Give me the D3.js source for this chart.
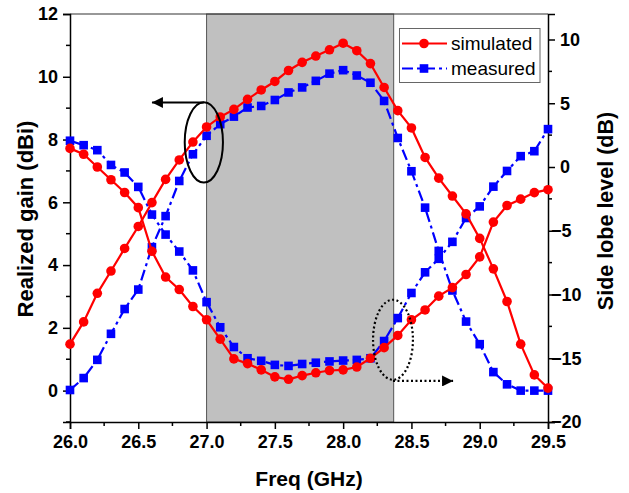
<!DOCTYPE html>
<html>
<head>
<meta charset="utf-8">
<script src="https://cdn.jsdelivr.net/npm/d3@7"></script>
<style>
  html, body { margin: 0; padding: 0; background: #fff; }
  svg { display: block; }
  text { font-family: Arial, "Liberation Sans", sans-serif; }
</style>
</head>
<body>
<svg id="chart" width="629" height="493"></svg>
<script>
// ---------------- data ----------------
const freq = [26.0,26.1,26.2,26.3,26.4,26.5,26.6,26.7,26.8,26.9,
              27.0,27.1,27.2,27.3,27.4,27.5,27.6,27.7,27.8,27.9,
              28.0,28.1,28.2,28.3,28.4,28.5,28.6,28.7,28.8,28.9,
              29.0,29.1,29.2,29.3,29.4,29.5];
// realized gain (dBi), left axis
const gainSim  = [1.48,2.19,3.10,3.81,4.53,5.23,5.99,6.73,7.35,7.92,
                  8.40,8.72,8.96,9.28,9.58,9.85,10.20,10.46,10.66,10.86,
                  11.07,10.83,10.42,9.66,8.92,8.37,7.43,6.77,6.20,5.63,
                  4.85,3.88,2.84,1.48,0.50,0.08];
const gainMeas = [0.02,0.40,0.98,1.81,2.60,3.22,4.57,5.56,6.68,7.53,
                  8.12,8.49,8.73,9.02,9.07,9.26,9.50,9.66,9.87,10.10,
                  10.21,10.04,9.81,9.23,8.05,6.99,5.83,4.45,3.19,2.20,
                  1.48,0.59,0.20,0.00,0.00,0.00];
// side lobe level (dB), right axis
const sllSim  = [1.46,1.00,0.00,-1.00,-2.00,-3.19,-6.61,-8.63,-9.61,-10.94,
                 -11.98,-13.50,-15.05,-15.42,-15.91,-16.46,-16.65,-16.36,-16.14,-15.96,
                 -15.91,-15.69,-15.00,-14.17,-13.21,-11.98,-11.21,-10.13,-9.46,-8.43,
                 -7.05,-4.32,-3.02,-2.52,-2.01,-1.78];
const sllMeas = [2.06,1.71,1.32,0.16,-0.43,-1.56,-3.73,-5.30,-6.63,-8.11,
                 -10.60,-12.57,-14.12,-15.00,-15.20,-15.52,-15.60,-15.45,-15.35,-15.25,
                 -15.18,-15.13,-15.00,-13.65,-11.85,-9.88,-8.26,-7.20,-5.87,-4.00,
                 -3.09,-1.54,-0.31,0.85,1.24,2.97];
const xTicks  = [26.0,26.5,27.0,27.5,28.0,28.5,29.0,29.5];
const yLTicks = [0,2,4,6,8,10,12];
const yRTicks = [-20,-15,-10,-5,0,5,10];
const band = [27.0, 28.37];
const legendLabels = ["simulated","measured"];
const xTitle = "Freq (GHz)", yLTitle = "Realized gain (dBi)", yRTitle = "Side lobe level (dB)";

// ---------------- layout ----------------
const svg = d3.select("#chart");
const L = 70, R = 548, T = 14, B = 422;
const x  = d3.scaleLinear().domain([26, 29.5]).range([L, R]);
const yL = d3.scaleLinear().domain([-1, 12]).range([B, T]);
const yR = d3.scaleLinear().domain([-20, 12]).range([B, T]);
const RED = "#ff0000", BLUE = "#0000ff";

// shaded band
svg.append("rect")
  .attr("x", x(band[0])).attr("y", T)
  .attr("width", x(band[1]) - x(band[0])).attr("height", B - T)
  .attr("fill", "#c0c0c0").attr("stroke", "#555").attr("stroke-width", 1);

// frame top
svg.append("line").attr("x1", L).attr("x2", R).attr("y1", T).attr("y2", T)
  .attr("stroke", "#333").attr("stroke-width", 1.2);

function styleAxis(g) {
  g.select(".domain").attr("stroke", "#000").attr("stroke-width", 1.5);
  g.selectAll(".tick line").attr("stroke", "#000").attr("stroke-width", 1.5);
  g.selectAll("text").attr("font-size", 18).attr("font-weight", "bold").attr("fill", "#000")
    .attr("font-family", "Arial, 'Liberation Sans', sans-serif");
}
// minor ticks
const minorX = [26.25,26.75,27.25,27.75,28.25,28.75,29.25];
const minorL = [-1,1,3,5,7,9,11];
const minorR = [-17.5,-12.5,-7.5,-2.5,2.5,7.5];

const gx = svg.append("g").attr("transform", `translate(0,${B})`)
  .call(d3.axisBottom(x).tickValues(xTicks).tickFormat(d3.format(".1f")).tickSizeOuter(0).tickSize(7).tickPadding(6));
styleAxis(gx);
gx.selectAll(".minor").data(minorX).enter().append("line")
  .attr("x1", d => x(d)).attr("x2", d => x(d)).attr("y1", 0).attr("y2", 4)
  .attr("stroke", "#000").attr("stroke-width", 1.5);

const gl = svg.append("g").attr("transform", `translate(${L},0)`)
  .call(d3.axisLeft(yL).tickValues(yLTicks).tickSizeOuter(0).tickSize(7).tickPadding(5));
styleAxis(gl);
gl.selectAll(".minor").data(minorL).enter().append("line")
  .attr("y1", d => yL(d)).attr("y2", d => yL(d)).attr("x1", 0).attr("x2", -4)
  .attr("stroke", "#000").attr("stroke-width", 1.5);

const gr = svg.append("g").attr("transform", `translate(${R},0)`)
  .call(d3.axisRight(yR).tickValues(yRTicks).tickFormat(d => d < 0 ? "\u2212" + Math.abs(d) : String(d))
        .tickSizeOuter(0).tickSize(7).tickPadding(5));
styleAxis(gr);
gr.selectAll(".tick text").attr("x", d => d < 0 ? 3 : 12);
gr.selectAll(".minor").data(minorR).enter().append("line")
  .attr("y1", d => yR(d)).attr("y2", d => yR(d)).attr("x1", 0).attr("x2", 4)
  .attr("stroke", "#000").attr("stroke-width", 1.5);

// titles
svg.append("text").attr("x", (L + R) / 2).attr("y", 486)
  .attr("text-anchor", "middle").attr("font-size", 21).attr("font-weight", "bold").text(xTitle);
svg.append("text").attr("transform", "translate(33,219) rotate(-90)")
  .attr("text-anchor", "middle").attr("font-size", 22).attr("font-weight", "bold").text(yLTitle);
svg.append("text").attr("transform", "translate(613,211) rotate(-90)")
  .attr("text-anchor", "middle").attr("font-size", 21.5).attr("font-weight", "bold").text(yRTitle);

// ---------------- series ----------------
const DASHDOT = "11,4,3,4";
const series = [
  {vals: gainMeas, y: yL, color: BLUE, dash: DASHDOT, shape: "square"},
  {vals: sllMeas,  y: yR, color: BLUE, dash: DASHDOT, shape: "square"},
  {vals: gainSim,  y: yL, color: RED,  dash: null,    shape: "circle"},
  {vals: sllSim,   y: yR, color: RED,  dash: null,    shape: "circle"}
];
const plot = svg.append("g");
series.forEach(s => {
  const pts = freq.map((f, i) => [x(f), s.y(s.vals[i])]);
  plot.append("path").attr("d", d3.line()(pts)).attr("fill", "none")
    .attr("stroke", s.color).attr("stroke-width", 2.2)
    .attr("stroke-dasharray", s.dash);
  if (s.shape === "circle") {
    plot.selectAll(null).data(pts).enter().append("circle")
      .attr("cx", d => d[0]).attr("cy", d => d[1]).attr("r", 4.8).attr("fill", s.color);
  } else {
    plot.selectAll(null).data(pts).enter().append("rect")
      .attr("x", d => d[0] - 4.3).attr("y", d => d[1] - 4.3).attr("width", 8.6).attr("height", 8.6).attr("fill", s.color);
  }
});

// ---------------- annotations ----------------
const defs = svg.append("defs");
defs.append("marker").attr("id", "ah").attr("viewBox", "0 0 10 10").attr("refX", 10).attr("refY", 5)
  .attr("markerWidth", 20).attr("markerHeight", 11).attr("markerUnits", "userSpaceOnUse")
  .attr("orient", "auto")
  .append("path").attr("d", "M0,0 L10,5 L0,10 z").attr("fill", "#000");

const gainNote = {cx: 26.98, cy: 7.91, rx: 0.14, ry: 1.28, ay: 9.18, ax0: 26.98, ax1: 26.60};
svg.append("ellipse")
  .attr("cx", x(gainNote.cx)).attr("cy", yL(gainNote.cy))
  .attr("rx", x(26 + gainNote.rx) - x(26)).attr("ry", yL(0) - yL(gainNote.ry))
  .attr("fill", "none").attr("stroke", "#000").attr("stroke-width", 2);
svg.append("line")
  .attr("x1", x(gainNote.ax0)).attr("y1", yL(gainNote.ay)).attr("x2", x(gainNote.ax1)).attr("y2", yL(gainNote.ay))
  .attr("stroke", "#000").attr("stroke-width", 2).attr("marker-end", "url(#ah)");

const sllNote = {cx: 28.365, cy: -13.55, rx: 0.146, ry: 3.14, ay: -16.78, ax0: 28.365, ax1: 28.805};
svg.append("ellipse")
  .attr("cx", x(sllNote.cx)).attr("cy", yR(sllNote.cy))
  .attr("rx", x(26 + sllNote.rx) - x(26)).attr("ry", yR(0) - yR(sllNote.ry))
  .attr("fill", "none").attr("stroke", "#000").attr("stroke-width", 2.2).attr("stroke-dasharray", "2,2.5");
svg.append("line")
  .attr("x1", x(sllNote.ax0)).attr("y1", yR(sllNote.ay)).attr("x2", x(sllNote.ax1)).attr("y2", yR(sllNote.ay))
  .attr("stroke", "#000").attr("stroke-width", 2.2).attr("stroke-dasharray", "2,2.5").attr("marker-end", "url(#ah)");

// ---------------- legend ----------------
const lg = svg.append("g");
lg.append("rect").attr("x", 399.5).attr("y", 28.5).attr("width", 140.5).attr("height", 54)
  .attr("fill", "#fff").attr("stroke", "#666").attr("stroke-width", 1);
const legendItems = [
  {label: legendLabels[0], color: RED, dash: null, shape: "circle"},
  {label: legendLabels[1], color: BLUE, dash: DASHDOT, shape: "square"}
];
legendItems.forEach((it, i) => {
  const yy = 43.5 + i * 25;
  lg.append("line").attr("x1", 402).attr("x2", 447).attr("y1", yy).attr("y2", yy)
    .attr("stroke", it.color).attr("stroke-width", 2.2).attr("stroke-dasharray", it.dash);
  if (it.shape === "circle") lg.append("circle").attr("cx", 424).attr("cy", yy).attr("r", 4.8).attr("fill", it.color);
  else lg.append("rect").attr("x", 419.7).attr("y", yy - 4.3).attr("width", 8.6).attr("height", 8.6).attr("fill", it.color);
  lg.append("text").attr("x", 451).attr("y", yy + 6.5).attr("font-size", 19).attr("fill", "#000").text(it.label);
});
</script>
</body>
</html>
